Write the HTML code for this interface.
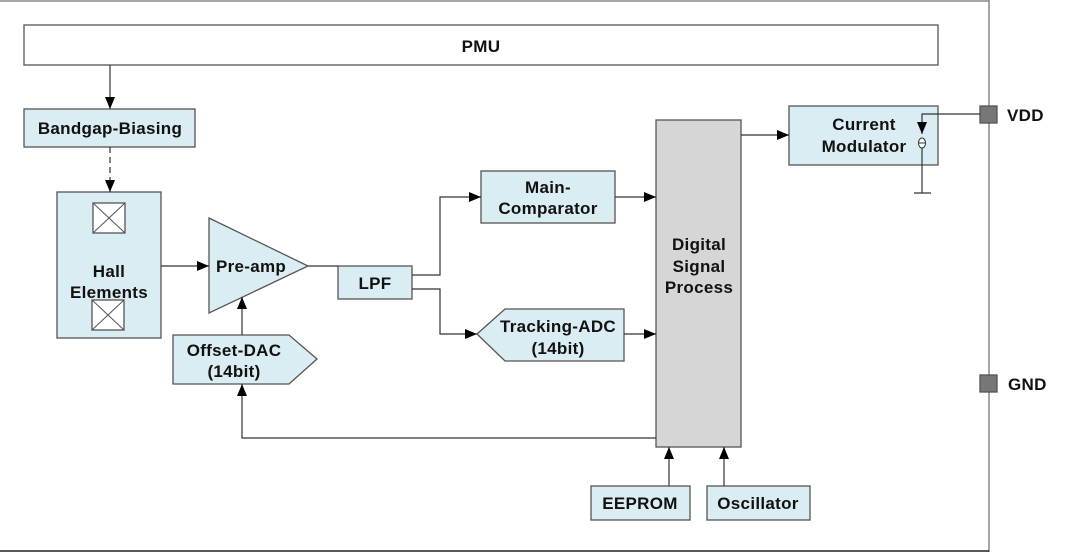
<!DOCTYPE html>
<html><head><meta charset="utf-8"><style>
html,body{margin:0;padding:0;background:#fff;}
svg{display:block;}
text{font-family:"Liberation Sans",Arial,sans-serif;font-weight:bold;font-size:17px;fill:#111;letter-spacing:0.3px;}
</style></head><body>
<svg width="1080" height="555" viewBox="0 0 1080 555" xmlns="http://www.w3.org/2000/svg">
<defs>
<marker id="a" markerWidth="12" markerHeight="10" refX="12" refY="5" orient="auto" markerUnits="userSpaceOnUse">
<path d="M0,0 L12,5 L0,10 z" fill="#000"/></marker>
</defs>
<line x1="0" y1="1" x2="989" y2="1" stroke="#888" stroke-width="1.5"/>
<line x1="989" y1="0" x2="989" y2="552" stroke="#888" stroke-width="1.5"/>
<line x1="0" y1="551" x2="989" y2="551" stroke="#222" stroke-width="1.5"/>
<g stroke="#555" stroke-width="1.3">
<rect x="24" y="25" width="914" height="40" fill="#fff"/>
<rect x="24" y="109" width="171" height="38" fill="#daedf3"/>
<rect x="57" y="192" width="104" height="146" fill="#daedf3"/>
<rect x="93" y="203" width="32" height="30" fill="#fff"/>
<rect x="92" y="300" width="32" height="30" fill="#fff"/>
<polygon points="209,218 308,266 209,313" fill="#daedf3"/>
<polygon points="173,335 289,335 317,359 289,384 173,384" fill="#daedf3"/>
<rect x="338" y="266" width="74" height="33" fill="#daedf3"/>
<rect x="481" y="171" width="134" height="52" fill="#daedf3"/>
<polygon points="477,334 505,309 624,309 624,361 505,361" fill="#daedf3"/>
<rect x="656" y="120" width="85" height="327" fill="#d6d6d6"/>
<rect x="789" y="106" width="149" height="59" fill="#daedf3"/>
<rect x="591" y="486" width="99" height="34" fill="#daedf3"/>
<rect x="707" y="486" width="103" height="34" fill="#daedf3"/>
<rect x="980" y="106" width="17" height="17" fill="#777"/>
<rect x="980" y="375" width="17" height="17" fill="#777"/>
</g>
<g stroke="#555" stroke-width="1">
<path d="M93,203 L125,233 M125,203 L93,233 M92,300 L124,330 M124,300 L92,330"/>
</g>
<g stroke="#333" stroke-width="1.2" fill="none">
<line x1="110" y1="65" x2="110" y2="109" marker-end="url(#a)"/>
<line x1="110" y1="147" x2="110" y2="192" stroke-dasharray="6,4" marker-end="url(#a)"/>
<line x1="161" y1="266" x2="209" y2="266" marker-end="url(#a)"/>
<line x1="242" y1="335" x2="242" y2="297" marker-end="url(#a)"/>
<line x1="308" y1="266" x2="338" y2="266"/>
<path d="M412,275 H440 V197 H481" marker-end="url(#a)"/>
<path d="M412,289 H440 V334 H477" marker-end="url(#a)"/>
<line x1="615" y1="197" x2="656" y2="197" marker-end="url(#a)"/>
<line x1="624" y1="334" x2="656" y2="334" marker-end="url(#a)"/>
<path d="M656,438 H242 V384" marker-end="url(#a)"/>
<line x1="741" y1="135" x2="789" y2="135" marker-end="url(#a)"/>
<line x1="669" y1="486" x2="669" y2="447" marker-end="url(#a)"/>
<line x1="724" y1="486" x2="724" y2="447" marker-end="url(#a)"/>
<path d="M980,114 H922 V134" marker-end="url(#a)"/>
<line x1="922" y1="148" x2="922" y2="193"/>
<line x1="914" y1="193" x2="931" y2="193"/>
</g>
<ellipse cx="922" cy="143" rx="3.5" ry="5" fill="#fff" stroke="#333" stroke-width="1"/>
<line x1="919" y1="143" x2="925" y2="143" stroke="#333" stroke-width="1"/>
<text x="481" y="52" text-anchor="middle">PMU</text>
<text x="110" y="134" text-anchor="middle">Bandgap-Biasing</text>
<text x="109" y="277" text-anchor="middle">Hall</text>
<text x="109" y="298" text-anchor="middle">Elements</text>
<text x="251" y="272" text-anchor="middle">Pre-amp</text>
<text x="234" y="356" text-anchor="middle">Offset-DAC</text>
<text x="234" y="377" text-anchor="middle">(14bit)</text>
<text x="375" y="289" text-anchor="middle">LPF</text>
<text x="548" y="193" text-anchor="middle">Main-</text>
<text x="548" y="214" text-anchor="middle">Comparator</text>
<text x="558" y="332" text-anchor="middle">Tracking-ADC</text>
<text x="558" y="354" text-anchor="middle">(14bit)</text>
<text x="699" y="250" text-anchor="middle">Digital</text>
<text x="699" y="272" text-anchor="middle">Signal</text>
<text x="699" y="293" text-anchor="middle">Process</text>
<text x="864" y="130" text-anchor="middle">Current</text>
<text x="864" y="152" text-anchor="middle">Modulator</text>
<text x="640" y="509" text-anchor="middle">EEPROM</text>
<text x="758" y="509" text-anchor="middle">Oscillator</text>
<text x="1007" y="121">VDD</text>
<text x="1008" y="390">GND</text>
</svg>
</body></html>
